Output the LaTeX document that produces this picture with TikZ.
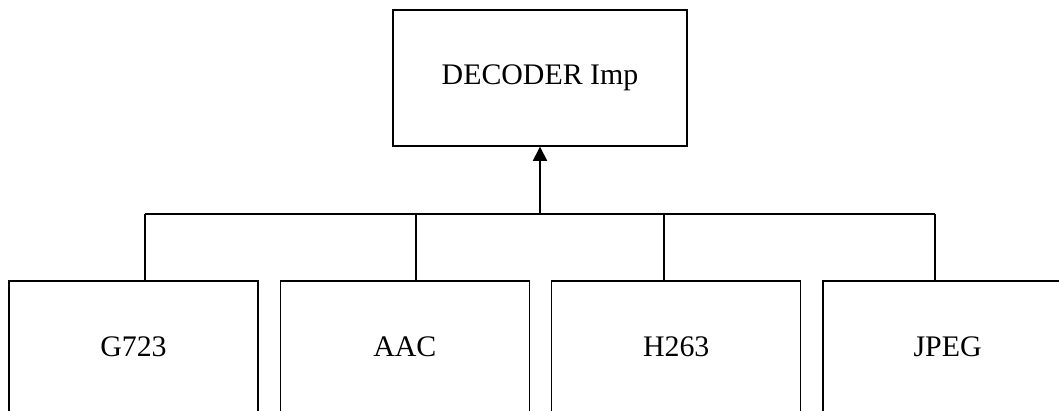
\documentclass[tikz,border=0pt]{standalone}
\usepackage{fontspec}
\setmainfont{Liberation Serif}
\usepackage{tikz}
\usetikzlibrary{arrows.meta, positioning}

\begin{document}
\begin{tikzpicture}[x=0.02cm, y=-0.02cm, line width=0.8pt, >={Triangle[length=8pt, width=8pt]},
    blk/.style={draw, minimum width=4.98cm, minimum height=2.64cm, font=\fontsize{17}{20}\selectfont}]
  \clip (0,0) rectangle (1059,410);

  \node[draw, minimum width=5.88cm, minimum height=2.72cm, font=\fontsize{17}{20}\selectfont] (dec) at (540,78) {DECODER Imp};

  \node[blk] (g723) at (133.5,347) {G723};
  \node[blk, right=0.42cm of g723] (aac) {AAC};
  \node[blk, right=0.42cm of aac] (h263) {H263};
  \node[blk, right=0.42cm of h263] (jpeg) {JPEG};

  % bus
  \coordinate (busL) at (145,214);
  \coordinate (tapA) at (416,214);
  \coordinate (bus) at (540,214);
  \coordinate (tapH) at (664,214);
  \coordinate (busR) at (935,214);
  \draw (busL) -- (busR);
  \draw[->] (bus) -- (dec.south);

  \draw (busL) -- (busL |- g723.north);
  \draw (tapA) -- (tapA |- aac.north);
  \draw (tapH) -- (tapH |- h263.north);
  \draw (busR) -- (busR |- jpeg.north);
\end{tikzpicture}
\end{document}
